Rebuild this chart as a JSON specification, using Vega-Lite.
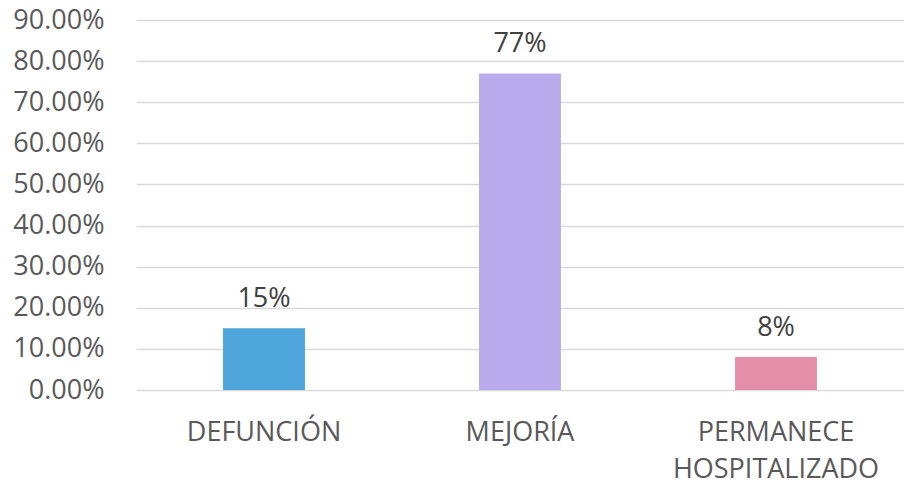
{
  "$schema": "https://vega.github.io/schema/vega-lite/v6.json",
  "width": 768,
  "height": 370,
  "autosize": "none",
  "padding": {"left": 136, "top": 20, "right": 0, "bottom": 93},
  "background": "white",
  "config": {
    "view": {"stroke": null},
    "font": "Open Sans"
  },
  "data": {
    "values": [
      {"estado": "DEFUNCIÓN", "pct": 0.15, "label": "15%"},
      {"estado": "MEJORÍA", "pct": 0.77, "label": "77%"},
      {"estado": "PERMANECE HOSPITALIZADO", "pct": 0.08, "label": "8%"}
    ]
  },
  "encoding": {
    "x": {
      "field": "estado",
      "type": "nominal",
      "sort": null,
      "scale": {"paddingInner": 0.68, "paddingOuter": 0.34},
      "axis": {
        "title": null,
        "labelAngle": 0,
        "domain": false,
        "ticks": false,
        "labelPadding": 29,
        "labelFontSize": 27,
        "labelColor": "#595959",
        "labelFont": "Open Sans",
        "labelLineHeight": 37,
        "labelLimit": 0,
        "labelExpr": "split(datum.value, ' ')"
      }
    },
    "y": {
      "field": "pct",
      "type": "quantitative",
      "scale": {"domain": [0, 0.9], "nice": false},
      "axis": {
        "title": null,
        "format": ".2%",
        "values": [0, 0.1, 0.2, 0.3, 0.4, 0.5, 0.6, 0.7, 0.8, 0.9],
        "domain": false,
        "ticks": false,
        "labelPadding": 32,
        "labelFontSize": 27,
        "labelColor": "#595959",
        "labelFont": "Open Sans",
        "gridColor": "#D9D9D9",
        "gridWidth": 1.5
      }
    }
  },
  "layer": [
    {
      "mark": {"type": "bar"},
      "encoding": {
        "color": {
          "field": "estado",
          "type": "nominal",
          "sort": null,
          "scale": {"range": ["#4EA6DC", "#B8ACEE", "#E48EA9"]},
          "legend": null
        }
      }
    },
    {
      "mark": {"type": "text", "baseline": "bottom", "dy": -15, "fontSize": 27, "color": "#404040", "font": "Open Sans"},
      "encoding": {
        "text": {"field": "label"}
      }
    }
  ]
}
